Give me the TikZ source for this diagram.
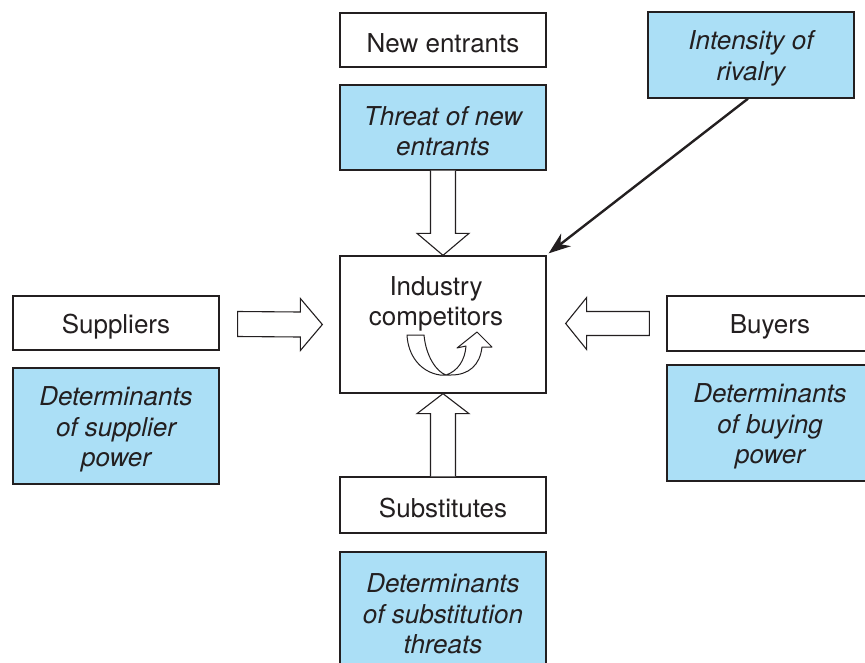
\documentclass[tikz,border=0pt]{standalone}
\usepackage{fontspec}
\setmainfont{TeX Gyre Heros}
\usetikzlibrary{calc,arrows.meta}
\definecolor{boxblue}{RGB}{171,223,246}
\definecolor{inkgray}{RGB}{35,31,32}
\tikzset{
  plain/.style={draw=inkgray, line width=1.3pt, fill=white, minimum width=206pt,
    inner sep=0pt},
  shaded/.style={plain, fill=boxblue},
  txt/.style={align=center, text=inkgray, inner sep=0pt, yshift=-3.5pt,
    font=\fontsize{26}{30.5}\selectfont},
  txti/.style={txt, font=\fontsize{26}{30.5}\selectfont\itshape},
  blk/.style={draw=inkgray, line width=1.1pt, fill=white, line join=miter},
  rivalry/.style={draw=inkgray, line width=2.4pt, -{Stealth[length=22pt,width=16pt]}}
}
\begin{document}
\begin{tikzpicture}[x=1pt,y=-1pt]
\useasboundingbox (0,0) rectangle (865,662);
\begin{scope}
\clip (0,0) rectangle (865,662);
% top column
\node[plain, minimum height=54pt, label={[txt]center:New entrants}] (ne) at (443,40) {};
\node[shaded, minimum height=85pt, label={[txti]center:Threat of new\\entrants}] (tne) at (443,127.5) {};
\node[shaded, minimum height=86pt, label={[txti]center:Intensity of\\rivalry}] (ir) at (751,55) {};
% centre
\node[plain, minimum height=137pt] (ic) at (443,324.5) {};
\node[txt, yshift=0pt, anchor=base] (ict) at (436,322) {Industry\\competitors};
% left column
\node[plain, minimum height=54pt, label={[txt]center:Suppliers}] (sup) at (116,323) {};
\node[shaded, minimum height=116pt, label={[txti]center:Determinants\\of supplier\\power}] (dsp) at (116,426) {};
% right column
\node[plain, minimum height=55pt, label={[txt]center:Buyers}] (buy) at (770,323.5) {};
\node[shaded, minimum height=116pt, label={[txti]center:Determinants\\of buying\\power}] (dbp) at (770,423) {};
% bottom column
\node[plain, minimum height=56pt, label={[txt]center:Substitutes}] (sub) at (443,505) {};
\node[shaded, minimum height=116pt] (dst) at (443,610) {};
\node[txti, yshift=0pt, anchor=base] (dstt) at (443,650) {Determinants\\of substitution\\threats};
\end{scope}

% hollow arrow: threat of new entrants -> competitors
\draw[blk] ($(tne.south)+(-12.5,0)$) -- ($(ic.north)+(-12.5,-22)$)
  -- ($(ic.north)+(-26,-22)$) -- (ic.north) -- ($(ic.north)+(26,-22)$)
  -- ($(ic.north)+(12.5,-22)$) -- ($(tne.south)+(12.5,0)$);
% hollow arrow: substitutes -> competitors
\draw[blk] ($(sub.north)+(-12.5,0)$) -- ($(ic.south)+(-12.5,20)$)
  -- ($(ic.south)+(-26,20)$) -- (ic.south) -- ($(ic.south)+(26,20)$)
  -- ($(ic.south)+(12.5,20)$) -- ($(sub.north)+(12.5,0)$);
% hollow arrow: suppliers -> competitors
\coordinate (rtip) at ($(ic.west)+(-17,0)$);
\draw[blk] ($(sup.east)+(18,-11.5)$) -- ($(rtip)+(-22,-12.5)$)
  -- ($(rtip)+(-22,-26)$) -- (rtip) -- ($(rtip)+(-22,26)$)
  -- ($(rtip)+(-22,12.5)$) -- ($(sup.east)+(18,13.5)$) -- cycle;
% hollow arrow: buyers -> competitors
\coordinate (ltip) at ($(ic.east)+(19,-1)$);
\draw[blk] ($(buy.west)+(-17,-12)$) -- ($(ltip)+(21,-12)$)
  -- ($(ltip)+(21,-26)$) -- (ltip) -- ($(ltip)+(21,26)$)
  -- ($(ltip)+(21,12)$) -- ($(buy.west)+(-17,12)$) -- cycle;

% rivalry arrow into the competitors box
\draw[rivalry] (ir.south) ++(-3,0) coordinate (irs) (irs) -- ($(ic.north east)+(2,-2)$);

% curved rivalry swirl inside the competitors box
\draw[blk, line width=1pt, line join=round]
  (407,335) -- (424,335)
  .. controls (426,357) and (437,372) .. (446,375)
  .. controls (458,371) and (465,360) .. (466,346)
  -- (457,348) -- (477,332) -- (492,347) -- (482,347)
  .. controls (480,365) and (469,375) .. (451,375)
  -- (440,375)
  .. controls (420,372) and (408,355) .. (407,335) -- cycle;
\end{tikzpicture}
\end{document}
